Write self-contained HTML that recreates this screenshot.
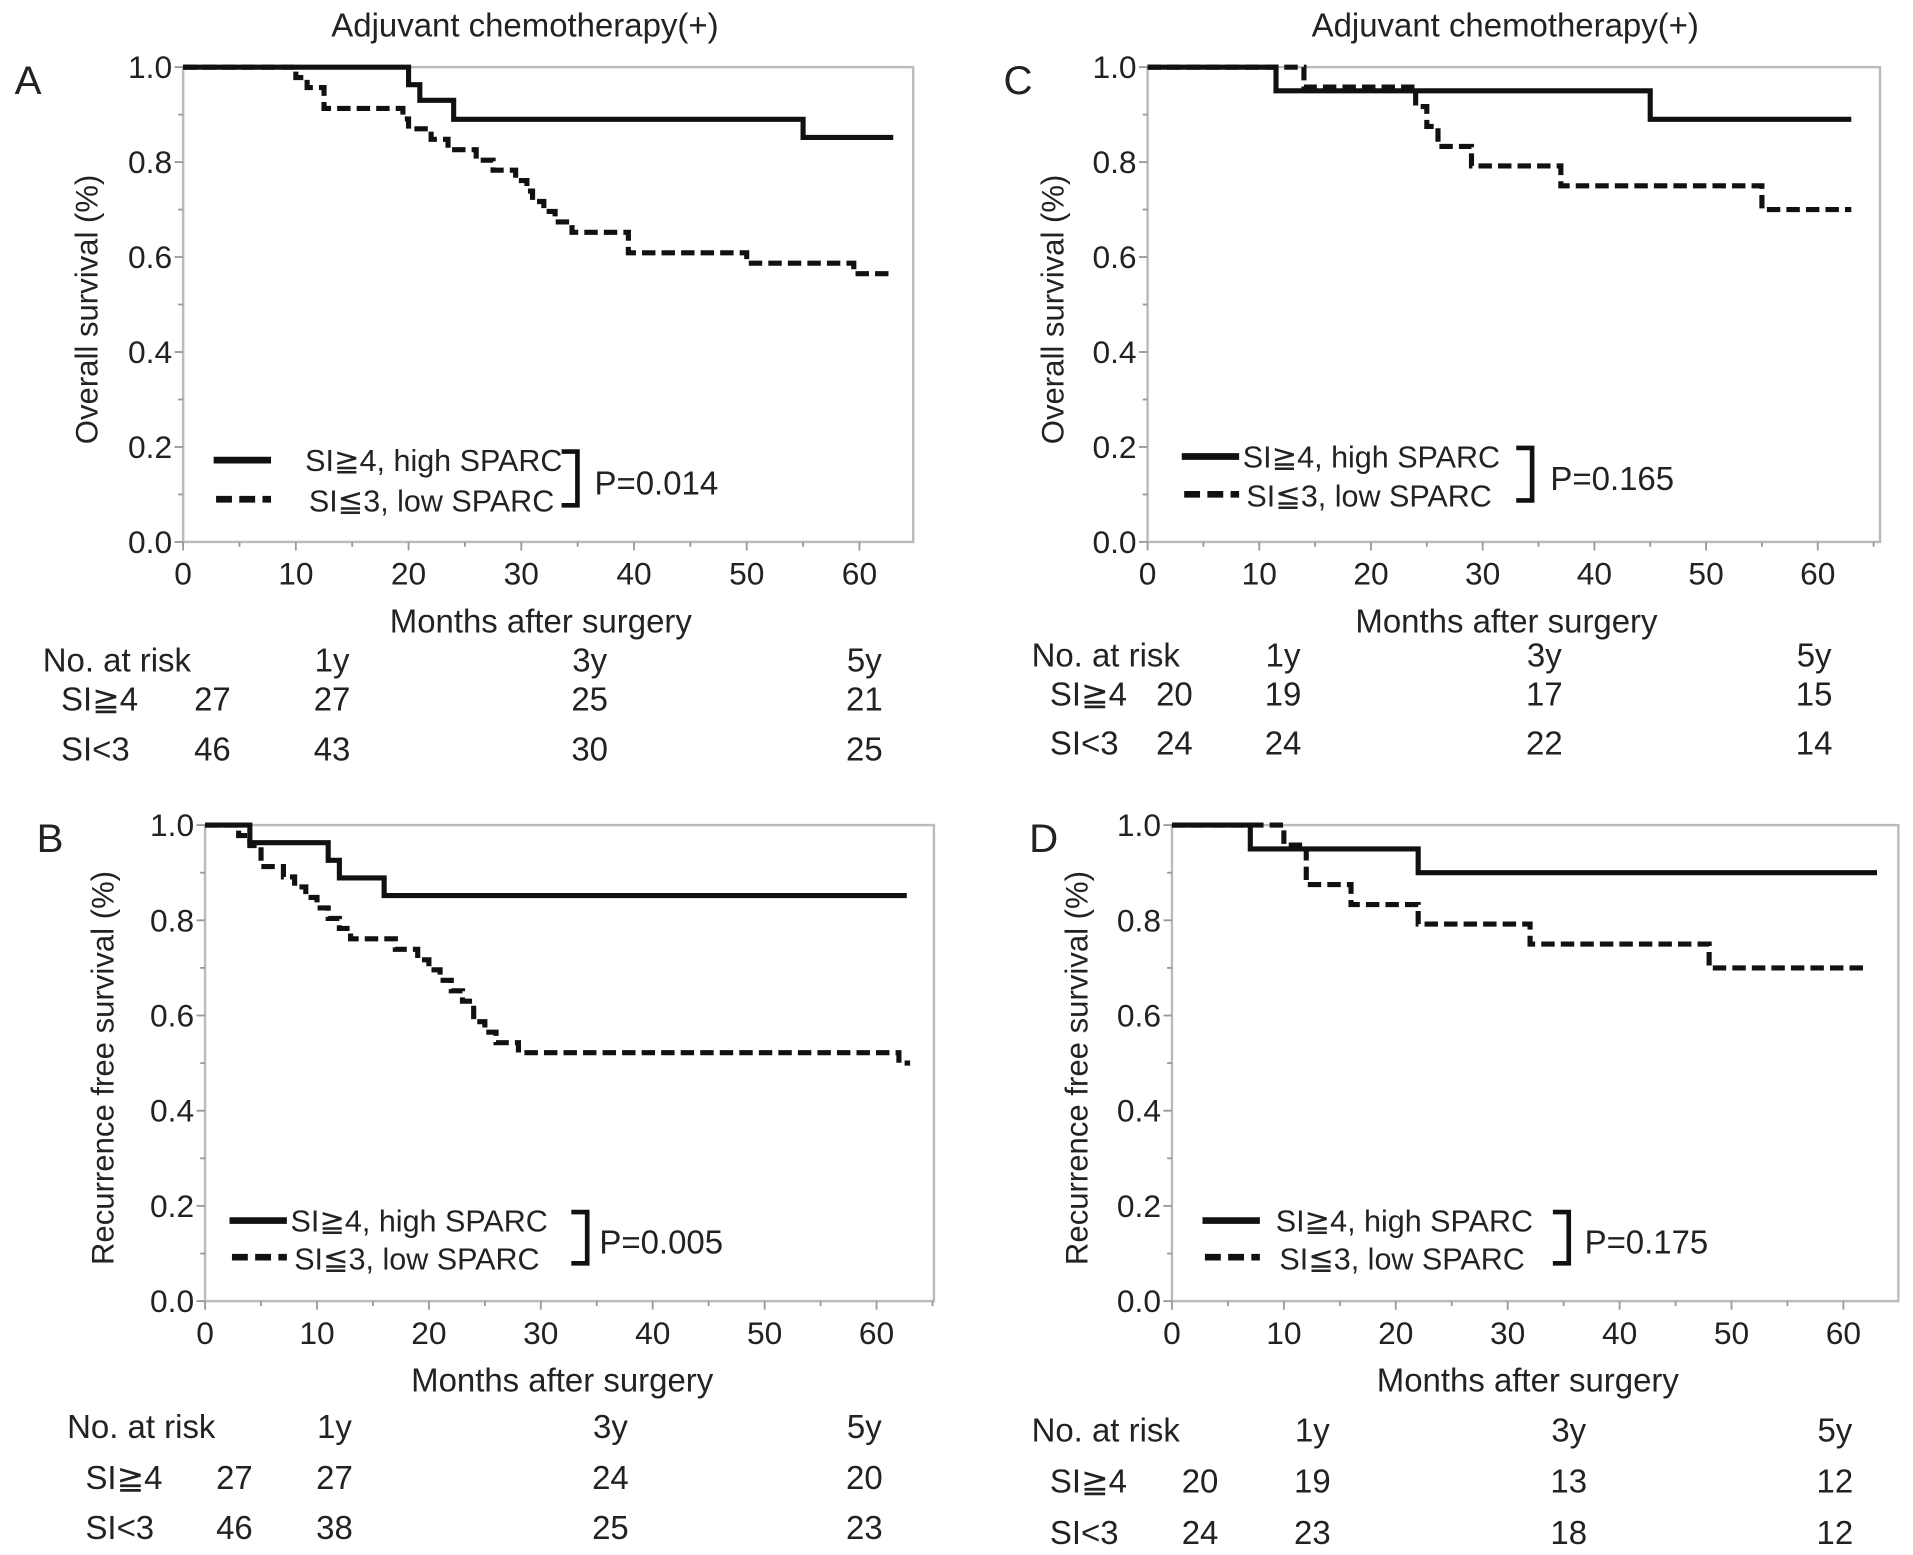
<!DOCTYPE html>
<html><head><meta charset="utf-8"><style>
html,body{margin:0;padding:0;background:#fff}
svg{display:block}
text{font-family:"Liberation Sans",sans-serif;fill:#222}
</style></head><body>
<svg id="fig" width="1913" height="1555" viewBox="0 0 1567 1274" preserveAspectRatio="none" xmlns="http://www.w3.org/2000/svg"></svg>
<script>
// ---- data ----
const panelIds = ["A","C","B","D"];
const highA = [[0,1],[20,0.963],[21,0.93],[24,0.89],[55,0.852]];
const lowA  = [[0,1],[10,0.978],[11,0.957],[12.5,0.913],[19.5,0.891],[20,0.87],[22,0.848],[23.5,0.826],[26,0.804],[27.5,0.783],[29.5,0.761],[30.5,0.739],[31,0.717],[32,0.696],[33,0.674],[34.5,0.652],[39.5,0.609],[50,0.587],[59.5,0.565]];
const highC = [[0,1],[11.5,0.95],[45,0.89]];
const lowC  = [[0,1],[14,0.958],[24,0.917],[25,0.875],[26,0.833],[29,0.792],[37,0.75],[55,0.70]];
const highB = [[0,1],[4,0.963],[11,0.926],[12,0.889],[16,0.852]];
const lowB  = [[0,1],[3,0.978],[4,0.957],[5,0.913],[7,0.891],[8,0.87],[9,0.848],[10,0.826],[11,0.804],[12,0.783],[13,0.761],[17,0.739],[19,0.717],[20,0.696],[21,0.674],[22,0.652],[23,0.63],[24,0.587],[25,0.565],[26,0.543],[28,0.522],[62,0.5]];
const highD = [[0,1],[7,0.95],[22,0.9]];
const lowD  = [[0,1],[10,0.958],[12,0.875],[16,0.833],[22,0.792],[32,0.75],[48,0.70]];
const endMonths = {A:[63,63],C:[63,63],B:[62.7,63],D:[63,62]};
const pValues = {A:"P=0.014",C:"P=0.165",B:"P=0.005",D:"P=0.175"};
const riskHigh = {A:[27,27,25,21],C:[20,19,17,15],B:[27,27,24,20],D:[20,19,13,12]};
const riskLow  = {A:[46,43,30,25],C:[24,24,22,14],B:[46,38,25,23],D:[24,23,18,12]};
const xTicks = [0,10,20,30,40,50,60];
const yTicks = [0,0.2,0.4,0.6,0.8,1.0];
const riskHeaders = ["1y","3y","5y"];

const L = {
 A:{x0:150,x60:704,right:748,yTop:55,yBot:444,ylab:"Overall survival (%)",ylx:80,letter:[12,77],risk:{hy:540,r1:572,r2:613,lab:35,nx:50,c:[174,272,483,708]},leg:{ly1:377,ly2:409,lx:175,tx:250,bx:460,p:487},series:[highA,lowA]},
 C:{x0:940,x60:1489,right:1540,yTop:55,yBot:444,ylab:"Overall survival (%)",ylx:871,letter:[822,77],risk:{hy:536,r1:568,r2:608,lab:845,nx:860,c:[962,1051,1265,1486]},leg:{ly1:374,ly2:405,lx:968,tx:1018,bx:1242,p:1270},series:[highC,lowC]},
 B:{x0:168,x60:718,right:765,yTop:676,yBot:1066,ylab:"Recurrence free survival (%)",ylx:93,letter:[30,698],risk:{hy:1168,r1:1210,r2:1251,lab:55,nx:70,c:[192,274,500,708]},leg:{ly1:1000,ly2:1030,lx:188,tx:238,bx:468,p:491},series:[highB,lowB]},
 D:{x0:960,x60:1510,right:1555,yTop:676,yBot:1066,ylab:"Recurrence free survival (%)",ylx:891,letter:[843,698],risk:{hy:1171,r1:1213,r2:1255,lab:845,nx:860,c:[983,1075,1285,1503]},leg:{ly1:1000,ly2:1030,lx:985,tx:1045,bx:1272,p:1298},series:[highD,lowD]}
};
const NS="http://www.w3.org/2000/svg";
const svg=document.getElementById('fig');
function mk(tag,attrs,parent,txt){const e=document.createElementNS(NS,tag);for(const k in attrs)e.setAttribute(k,attrs[k]);if(txt!==undefined)e.textContent=txt;(parent||svg).appendChild(e);return e;}

let t=mk('text',{x:430,y:30,'font-size':27,'text-anchor':'middle'},svg,"Adjuvant chemotherapy(+)");


t=mk('text',{x:1233,y:30,'font-size':27,'text-anchor':'middle'},svg,"Adjuvant chemotherapy(+)");



panelIds.forEach(id=>{
 const P=L[id];
 const g=mk('g',{});
 
 
 const sx=m=>P.x0+(P.x60-P.x0)*m/60;
 const sy=v=>P.yBot-(P.yBot-P.yTop)*v;
 const box=mk('rect',{x:P.x0,y:P.yTop,width:P.right-P.x0,height:P.yBot-P.yTop,fill:'none',stroke:'#bbb','stroke-width':2},g);
 
 
 for(let m=0;m<=70;m+=5){ if(sx(m)>P.right)break; mk('line',{x1:sx(m),x2:sx(m),y1:P.yBot,y2:P.yBot+(m%10?4:7),stroke:'#999','stroke-width':1.5},g);}
 for(let i=0;i<=10;i++){const v=i/10;mk('line',{x1:P.x0,x2:P.x0-(i%2?4:7),y1:sy(v),y2:sy(v),stroke:'#999','stroke-width':1.5},g);}
 xTicks.forEach(m=>{const e=mk('text',{x:sx(m),y:P.yBot+35,'font-size':26,'text-anchor':'middle'},g,String(m));
  
  });
 yTicks.forEach(v=>{const e=mk('text',{x:P.x0-9,y:sy(v)+9,'font-size':26,'text-anchor':'end'},g,v.toFixed(1));
  
  });
 let e=mk('text',{x:(P.x0+P.right)/2-6,y:P.yBot+74,'font-size':27,'text-anchor':'middle'},g,"Months after surgery");
 
 
 const cy=(P.yTop+P.yBot)/2+4;
 e=mk('text',{x:P.ylx,y:cy,'font-size':25.5,'text-anchor':'middle',transform:`rotate(-90 ${P.ylx} ${cy})`},g,P.ylab);
 
 
 e=mk('text',{x:P.letter[0],y:P.letter[1],'font-size':33},g,id);
 
 
 P.series.forEach((pts,si)=>{
  let d=`M${sx(pts[0][0])},${sy(pts[0][1])}`;
  for(let k=1;k<pts.length;k++){d+=` H${sx(pts[k][0])} V${sy(pts[k][1])}`;}
  d+=` H${sx(endMonths[id][si])}`;
  const p=mk('path',{d:d,fill:'none',stroke:'#111','stroke-width':4.2,'stroke-dasharray':si?'11,5':'none'},g);
  
  
 });
 const lg=P.leg;
 let l=mk('line',{x1:lg.lx,x2:lg.lx+47,y1:lg.ly1,y2:lg.ly1,stroke:'#111','stroke-width':5.5},g);
 
 
 l=mk('line',{x1:lg.lx+2,x2:lg.lx+47,y1:lg.ly2,y2:lg.ly2,stroke:'#111','stroke-width':5.5,'stroke-dasharray':'13,6'},g);
 
 
 e=mk('text',{x:lg.tx,y:lg.ly1+9,'font-size':25},g,"SI≧4, high SPARC");
 
 
 e=mk('text',{x:lg.tx+3,y:lg.ly2+10,'font-size':25},g,"SI≦3, low SPARC");
 
 
 l=mk('path',{d:`M${lg.bx},${lg.ly1-7} H${lg.bx+13} V${lg.ly2+5} H${lg.bx}`,fill:'none',stroke:'#111','stroke-width':3.8},g);
 
 
 e=mk('text',{x:lg.p,y:(lg.ly1+lg.ly2)/2+12,'font-size':27},g,pValues[id]);
 
 
 const R=P.risk;
 e=mk('text',{x:R.lab,y:R.hy+10,'font-size':27},g,"No. at risk");
 
 
 riskHeaders.forEach((h,i)=>{const q=mk('text',{x:R.c[i+1],y:R.hy+10,'font-size':27,'text-anchor':'middle'},g,h);
  
  });
 e=mk('text',{x:R.nx,y:R.r1+10,'font-size':27},g,"SI≧4");
 
 
 e=mk('text',{x:R.nx,y:R.r2+10,'font-size':27},g,"SI<3");
 
 
 riskHigh[id].forEach((v,i)=>{const q=mk('text',{x:R.c[i],y:R.r1+10,'font-size':27,'text-anchor':'middle'},g,String(v));
  
  });
 riskLow[id].forEach((v,i)=>{const q=mk('text',{x:R.c[i],y:R.r2+10,'font-size':27,'text-anchor':'middle'},g,String(v));
  
  });
});
</script>
</body></html>
